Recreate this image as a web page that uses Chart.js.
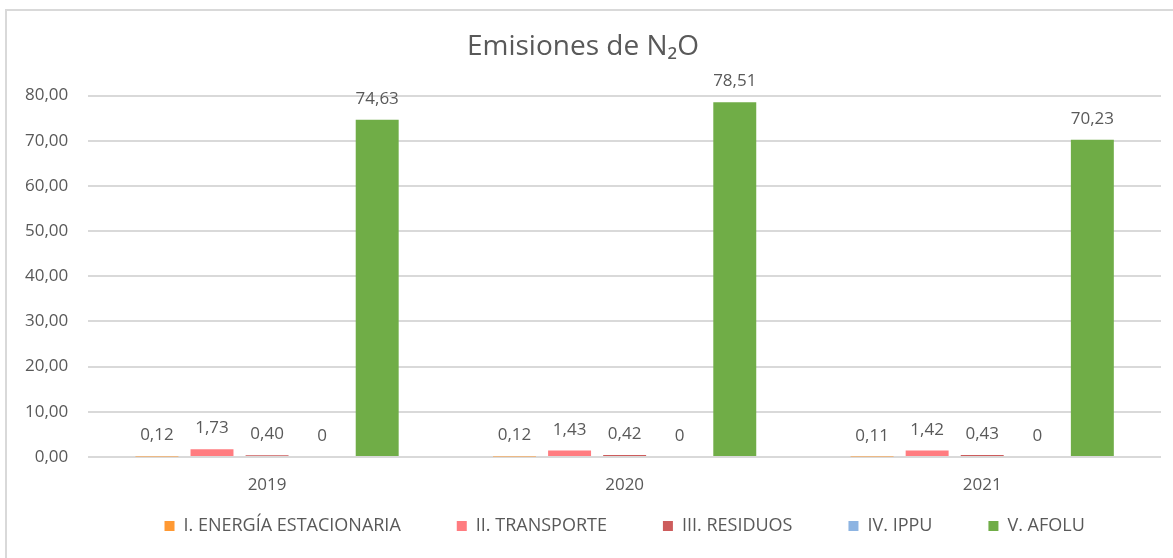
<!DOCTYPE html>
<html lang="es">
<head>
<meta charset="utf-8">
<title>Emisiones de N2O</title>
<script src="https://cdn.jsdelivr.net/npm/chart.js@4"></script>
<style>
    html, body { margin: 0; padding: 0; background: #fff; }
    #marco {
        position: absolute; left: 5px; top: 9px; width: 1168px; height: 549px;
        border-left: 2px solid #d9d9d9; border-top: 2px solid #d9d9d9;
        box-sizing: border-box;
    }
    #contenedor { position: absolute; left: 0; top: 0; width: 1173px; height: 558px; }
</style>
</head>
<body>
<div id="marco"></div>
<div id="contenedor"><canvas id="graficoN2O"></canvas></div>
<script>
// Datos del gráfico
const anios = ['2019', '2020', '2021'];
const energiaEstacionaria = [0.12, 0.12, 0.11];
const transporte = [1.73, 1.43, 1.42];
const residuos = [0.40, 0.42, 0.43];
const ippu = [0, 0, 0];
const afolu = [74.63, 78.51, 70.23];
const nombresSectores = ['I. ENERGÍA ESTACIONARIA', 'II. TRANSPORTE', 'III. RESIDUOS', 'IV. IPPU', 'V. AFOLU'];

const colores = ['#FF9933', '#FF7C80', '#CD5C5C', '#8DB4E2', '#70AD47'];
const fuente = "'Open Sans', 'DejaVu Sans', sans-serif";
const gris = '#595959';

function formatoComa(v) {
    if (v === 0) return '0';
    return v.toFixed(2).replace('.', ',');
}

// Etiquetas encima de cada barra
const etiquetasBarras = {
    id: 'etiquetasBarras',
    afterDatasetsDraw(chart) {
        const ctx = chart.ctx;
        ctx.save();
        ctx.font = '17px ' + fuente;
        ctx.fillStyle = gris;
        ctx.textAlign = 'center';
        ctx.textBaseline = 'alphabetic';
        chart.data.datasets.forEach((ds, i) => {
            const meta = chart.getDatasetMeta(i);
            meta.data.forEach((barra, j) => {
                ctx.fillText(formatoComa(ds.data[j]), barra.x, barra.y - 16);
            });
        });
        ctx.restore();
    }
};

const series = [energiaEstacionaria, transporte, residuos, ippu, afolu];

const grafico = new Chart(document.getElementById('graficoN2O').getContext('2d'), {
    type: 'bar',
    data: {
        labels: anios,
        datasets: series.map((datos, i) => ({
            label: nombresSectores[i],
            data: datos,
            backgroundColor: colores[i],
            borderWidth: 0,
            categoryPercentage: 0.77,
            barPercentage: 0.78
        }))
    },
    options: {
        responsive: true,
        maintainAspectRatio: false,
        animation: false,
        layout: { padding: { left: 5, right: 12, top: 14, bottom: 0 } },
        plugins: {
            title: {
                display: true,
                text: 'Emisiones de N₂O',
                color: gris,
                font: { family: fuente, size: 28, weight: 'normal' },
                padding: { top: 16, bottom: 32 }
            },
            legend: {
                position: 'bottom',
                fullSize: false,
                labels: {
                    color: gris,
                    font: { family: fuente, size: 18 },
                    boxWidth: 10,
                    boxHeight: 10,
                    padding: 56
                }
            },
            tooltip: { enabled: false }
        },
        scales: {
            x: {
                grid: { display: false },
                border: { display: false },
                // mirror evita que las etiquetas se recorten a la altura del eje
                ticks: { color: gris, font: { family: fuente, size: 17 }, mirror: true, padding: -38 },
                afterFit(escala) { escala.height = 4; }
            },
            y: {
                min: 0,
                max: 80,
                ticks: {
                    stepSize: 10,
                    color: gris,
                    font: { family: fuente, size: 17 },
                    padding: 20,
                    callback: v => v.toFixed(2).replace('.', ',')
                },
                grid: { color: '#d9d9d9', lineWidth: 2, drawTicks: false },
                border: { display: false }
            }
        }
    },
    plugins: [etiquetasBarras]
});

// La leyenda usa mucho espacio horizontal entre elementos, pero poca altura
const ajusteLeyenda = grafico.legend.fit;
grafico.legend.fit = function () {
    ajusteLeyenda.call(this);
    this.height = 97;
};
grafico.update();
</script>
</body>
</html>
